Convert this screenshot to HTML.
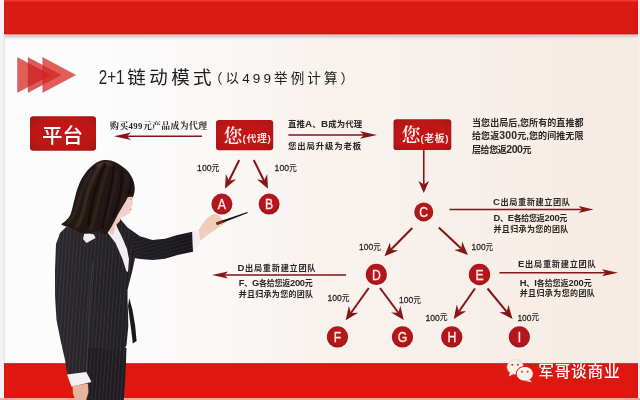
<!DOCTYPE html>
<html lang="zh-CN">
<head>
<meta charset="utf-8">
<title>2+1链动模式</title>
<style>
html,body{margin:0;padding:0;background:#f7f4f2;}
body{width:640px;height:400px;overflow:hidden;position:relative;font-family:"Liberation Sans","Noto Sans CJK SC",sans-serif;}
svg{position:absolute;left:0;top:0;display:block}
text{font-family:"Liberation Sans","Noto Sans CJK SC",sans-serif;}
.s{font-weight:700;fill:#2a2626;}
.n{font-weight:500;fill:#221f1f;}
.c{font-size:14.5px;font-weight:400;fill:#fdeeea;stroke:#fdeeea;stroke-width:0.35px;text-anchor:middle;}
</style>
</head>
<body>
<svg width="640" height="400" viewBox="0 0 640 400">
<defs>
<linearGradient id="bg" x1="0" y1="0" x2="1" y2="0">
<stop offset="0" stop-color="#fcfcfc"/>
<stop offset="0.22" stop-color="#fcfbfb"/>
<stop offset="0.52" stop-color="#f8f2ee"/>
<stop offset="1" stop-color="#f6ebe4"/>
</linearGradient>
<linearGradient id="shadow" x1="0" y1="0" x2="0" y2="1">
<stop offset="0" stop-color="#fbb"/>
<stop offset="0.35" stop-color="#d8d4d4"/>
<stop offset="1" stop-color="#f8f6f5" stop-opacity="0"/>
</linearGradient>
<radialGradient id="cg" cx="0.5" cy="0.45" r="0.6">
<stop offset="0" stop-color="#bd181d"/>
<stop offset="0.72" stop-color="#b0151a"/>
<stop offset="1" stop-color="#880f13"/>
</radialGradient>
<radialGradient id="bx" cx="0.5" cy="0.5" r="0.75">
<stop offset="0" stop-color="#c61716"/>
<stop offset="0.6" stop-color="#bd1516"/>
<stop offset="1" stop-color="#9c1012"/>
</radialGradient>
<filter id="soft" x="0" y="0" width="640" height="400" filterUnits="userSpaceOnUse"><feGaussianBlur stdDeviation="0.38"/></filter>
<filter id="b1"><feGaussianBlur stdDeviation="0.6"/></filter>
<filter id="b2"><feGaussianBlur stdDeviation="1.2"/></filter>
<filter id="b3"><feGaussianBlur stdDeviation="2.2"/></filter>
</defs>
<rect width="640" height="400" fill="url(#bg)"/>
<rect x="0" y="0" width="3.8" height="400" fill="#f3f2f6"/>
<rect x="638" y="0" width="2" height="400" fill="#f8efe9"/>
<!-- top band -->
<rect x="4" y="0" width="634" height="34.5" fill="#d91a13"/>
<rect x="4" y="0" width="634" height="1.5" fill="#f0392c"/>
<rect x="4" y="33" width="634" height="1.5" fill="#b5221c"/>
<rect x="4" y="34.5" width="634" height="6" fill="url(#shadow)"/>
<rect x="3.6" y="34" width="1.2" height="330" fill="#dcdadb" fill-opacity="0.8"/>
<!-- bottom band -->
<rect x="4" y="363.5" width="634" height="34.5" fill="#df170f"/>
<rect x="4" y="363.3" width="634" height="1.2" fill="#b5221c"/>
<rect x="0" y="398" width="640" height="2" fill="#f6a9a0"/>
<g filter="url(#soft)">
<!--WOMAN-->
<defs>
<pattern id="pin" width="3.6" height="12" patternUnits="userSpaceOnUse" patternTransform="rotate(4)">
<rect x="0" y="0" width="0.7" height="12" fill="#6a6068" fill-opacity="0.32"/>
</pattern>
<pattern id="pinArm" width="3.4" height="12" patternUnits="userSpaceOnUse" patternTransform="rotate(75)">
<rect x="0" y="0" width="0.6" height="12" fill="#6a6068" fill-opacity="0.26"/>
</pattern>
<linearGradient id="hairg" x1="0" y1="0" x2="1" y2="0.3">
<stop offset="0" stop-color="#32231e"/>
<stop offset="0.45" stop-color="#1f1411"/>
<stop offset="1" stop-color="#241714"/>
</linearGradient>
<linearGradient id="suitg" x1="0" y1="0" x2="1" y2="0">
<stop offset="0" stop-color="#2c292f"/>
<stop offset="0.5" stop-color="#222026"/>
<stop offset="1" stop-color="#19171c"/>
</linearGradient>
</defs>
<g filter="url(#b1)">
<!-- pants -->
<path id="pants" d="M87,346 L126.5,348 L125.5,375 L123.8,401 L84,401 L86,372 Z" fill="#201d23"/>
<!-- jacket body + hanging sleeve -->
<path id="jacket" d="M66,227 L60,233 L56,244 L55,270 L55,296 L56.5,320 L60.5,340 L65,360 L67.5,375 L86.5,372.5 L87.5,348 L124,350.5 L126.5,345 L128.3,326 L128,312 L127.5,300 L127.5,290 L130,280 L132.5,270 L135,258 L140,259 L152.5,260 L165,258.8 L177.5,255 L193,251.8 L192.5,231.8 L177.5,235 L165,238.8 L152.5,240 L140,236.3 L127.5,227.5 L119,217.5 L112,222 L100,228 L85,229 Z" fill="url(#suitg)"/>
<path d="M66,227 L60,233 L56,244 L55,270 L55,296 L56.5,320 L60.5,340 L65,360 L67.5,375 L86.5,372.5 L87.5,348 L124,350.5 L126.5,345 L128.5,326 L128,312 L127.5,300 L127.5,290 L130,280 L132.5,270 L135,258 L127.5,227.5 L119,217.5 L112,222 L100,228 L85,229 Z" fill="url(#pin)"/>
<path d="M135,258 L140,259 L152.5,260 L165,258.8 L177.5,255 L193,251.8 L192.5,231.8 L177.5,235 L165,238.8 L152.5,240 L140,236.3 L127.5,227.5 Z" fill="url(#pinArm)"/>
<path d="M87,350 L126,350 L125.5,375 L123.8,401 L84,401 L86,372 Z" fill="url(#pin)"/>
<path d="M129.3,298 L132.5,310 L135.2,326 L136.6,341 L132.8,343.5 L131.2,330 L129.6,318 L128,306 Z" fill="#1b181d"/>
<path d="M93,262 C90,285 88.5,315 87.8,347 L86.6,372" stroke="#55505a" stroke-opacity="0.55" stroke-width="0.9" fill="none"/>
<!-- shirt V -->
<path d="M107.5,232.5 L110.5,226 L115,220 L117,227 L122,237 L127,249 L129,259 L128,272 L126.3,271 L122.5,259 L115.5,243 Z" fill="#f1edf2"/>
<path d="M108.5,231 L111,225.5 L114.5,221.5 L115,229 L112.5,235.5 Z" fill="#ecc8b8"/>
<!-- left collar -->
<path d="M83,239 L84.5,232.5 L94,234.5 L95.5,238 L86.5,243 Z" fill="#efecf1"/>
<!-- neck -->
<path d="M112,217 L121,214 L120,221 L116,225 L109,228 Z" fill="#ecc8b8"/>
<!-- face -->
<path d="M120,190 L132.6,190 L132.5,200 L133.3,203.6 L131.8,206 L131.4,210 L129.3,213.6 L125.3,216 L120,217.5 L113,219 Z" fill="#f0d3c8"/>
<path d="M129.6,199 L131.8,199.2" stroke="#5a4440" stroke-width="0.7" fill="none" stroke-opacity="0.7"/>
<path d="M129.6,209.6 L131.6,209.4" stroke="#c8807a" stroke-width="0.9" fill="none"/>
<!-- hair -->
<path id="hair" d="M103.8,160 C108,159.6 112,160.5 115,162 C120,164.5 125,168 128.5,172 C132,176.5 134,181 134.6,186 C135.1,190.5 134.5,194 132.8,197.2 C131.3,196.5 129.6,196.5 127.8,197.2 C126.2,200.5 124.4,203.5 122.5,206.6 C120.8,209.5 119.2,212.3 117.5,215.2 C115,219.8 111.5,228 106.5,234 C104.8,234.2 103.5,234 102.5,233 C100,231.5 97.5,231 95,231.5 C91.5,232.2 88.5,234 85,233.8 C81,233.5 78,231.5 75,230 C71.5,228.3 68,227.5 65,226.3 C63.5,225.7 62,225.2 61,224.3 C64,222.5 66.7,220 68.8,217.5 C70.8,214.5 71.7,211 72.5,207.5 C73.3,204 74,201 75,197.5 C76,193 77.2,189 78.8,185 C80.2,181 82.5,177 85,173.8 C87.5,170 90.5,167 93.8,164.5 C97,162 100.5,160.4 103.8,160 Z" fill="url(#hairg)"/>
<!-- hair highlights -->
<g fill="none" filter="url(#b2)">
<path d="M101,164 C93,176 88,188 85,204 C83,214 80,222 76,228" stroke="#6a5046" stroke-width="3.2" stroke-opacity="0.42"/>
<path d="M109,165 C104,178 100,192 97,206 C95,216 93,224 90,231" stroke="#5e463d" stroke-width="2.6" stroke-opacity="0.38"/>
<path d="M93,169 C86,180 81,192 78,204 C76,212 72,219 67,224" stroke="#5a433a" stroke-width="2.4" stroke-opacity="0.35"/>
<path d="M117,170 C116,184 112,198 108,212 C106,220 103,227 100,231" stroke="#54403a" stroke-width="2.2" stroke-opacity="0.32"/>
<path d="M126,175 C127,186 124,198 120,209" stroke="#54403a" stroke-width="2" stroke-opacity="0.3"/>
<path d="M96,166 C100,163 106,162.5 112,164" stroke="#7a6054" stroke-width="3" stroke-opacity="0.35"/>
</g>
<g stroke="#0e0908" fill="none" filter="url(#b1)">
<path d="M105,163 C98,180 92,198 88,226" stroke-width="2.2" stroke-opacity="0.45"/>
<path d="M114,167 C112,186 107,206 102,229" stroke-width="2.4" stroke-opacity="0.45"/>
<path d="M122,171 C123,186 119,202 113,218" stroke-width="2.4" stroke-opacity="0.4"/>
<path d="M131,180 C131.5,186 130,191 128,195" stroke-width="2" stroke-opacity="0.4"/>
</g>
<!-- cuff (hanging arm) -->
<path d="M67,374.5 L86.3,372 L91.5,382 L71.5,386.8 Z" fill="#f3f0f4"/>
<!-- hand (hanging) -->
<path d="M72.5,386 L88,383.5 L88.5,392 L86,401 L76,401 L73,394 Z" fill="#e4b49d"/>
<!-- cuff (pointing arm) -->
<path d="M192.3,231.5 L199,230 L200.5,244 L193,251 Z" fill="#f1edf1"/>
<!-- pointing hand -->
<path d="M198.5,230 C201,226 204,221.5 207.5,218 C210,215.5 213,214 215.5,214 C218.5,214.2 221,216.5 222,219.5 L225.5,222 C224.5,224 223,225 221,225.8 C218,228 215,230 212,232 C208,235 204,237.5 200.3,240.5 Z" fill="#f0cdb8"/>
</g>
<!-- pen -->
<path d="M216.2,222.6 L247.3,211.9 L247.8,212.9 L217,225 Z" fill="#161214"/>
<path d="M216.5,223.8 L223,221.4" stroke="#8e1c1e" stroke-width="2.6" fill="none"/>
<!--DIAGRAM-->
<g>
<path d="M17.5,57.5 L50.4,75 L17.5,92.5 Z" fill="#d8231f" fill-opacity="0.72" stroke="#a01c1c" stroke-opacity="0.45" stroke-width="0.6"/>
<path d="M28.1,57.5 L61,75 L28.1,92.5 Z" fill="#cf1e1b" fill-opacity="0.72" stroke="#a01c1c" stroke-opacity="0.45" stroke-width="0.6"/>
<path d="M42.75,57.5 L75.6,75 L42.75,92.5 Z" fill="#d8231f" fill-opacity="0.72" stroke="#a01c1c" stroke-opacity="0.45" stroke-width="0.6"/>
</g>
<text transform="translate(98.8,83.7) scale(0.74,1)" style="font-size:20.5px;font-weight:400;fill:#222">2+1</text>
<text x="127.3" y="83.6" textLength="84.3" lengthAdjust="spacing" style="font-size:18.5px;font-weight:400;fill:#1a1a1a">链动模式</text>
<text x="209" y="83" textLength="145" lengthAdjust="spacing" style="font-size:13.5px;font-weight:400;fill:#1a1a1a">（以499举例计算）</text>
<rect x="30" y="116.2" width="66" height="34.5" rx="3.2" fill="url(#bx)"/>
<text x="42" y="142.6" textLength="41" lengthAdjust="spacing" style="font-size:20.5px;font-weight:500;fill:#fff">平台</text>
<text x="110.00" y="129.18" class="s" textLength="97.00" lengthAdjust="spacing" style="font-size:8.8px;font-family:'Liberation Serif','Noto Serif CJK SC',serif;font-weight:700;">购买499元产品成为代理</text>
<line x1="202.00" y1="136.20" x2="127.00" y2="136.20" stroke="#841318" stroke-width="1.5"/>
<path d="M114.00,136.20 L131.00,132.45 L127.00,136.20 L131.00,139.95 Z" fill="#841318"/>
<rect x="216" y="120" width="57.2" height="30.2" rx="3.2" fill="url(#bx)"/>
<text x="223.5" y="142.5" style="font-family:'Liberation Serif','Noto Serif CJK SC',serif;font-size:19px;font-weight:600;fill:#fdeeeb">您</text>
<text x="242.6" y="142.3" textLength="28.2" lengthAdjust="spacing" style="font-size:9.8px;font-weight:700;fill:#fbe6e2">(代理)</text>
<line x1="239.25" y1="160.00" x2="229.00" y2="180.69" stroke="#841318" stroke-width="2"/>
<path d="M225.00,188.75 L225.84,174.10 L229.00,180.69 L236.15,179.21 Z" fill="#841318"/>
<line x1="253.75" y1="160.00" x2="264.00" y2="180.69" stroke="#841318" stroke-width="2"/>
<path d="M268.00,188.75 L256.85,179.21 L264.00,180.69 L267.16,174.10 Z" fill="#841318"/>
<text transform="translate(197.10,170.85) scale(0.912,1)" class="n"><tspan style="font-size:9.5px;font-weight:400;stroke:#2b2828;stroke-width:0.3px">100</tspan><tspan style="font-size:8.6px;font-weight:500" dy="-0.2">元</tspan></text>
<text transform="translate(274.60,170.85) scale(0.912,1)" class="n"><tspan style="font-size:9.5px;font-weight:400;stroke:#2b2828;stroke-width:0.3px">100</tspan><tspan style="font-size:8.6px;font-weight:500" dy="-0.2">元</tspan></text>
<circle cx="221.9" cy="204.1" r="10.5" fill="url(#cg)"/>
<text transform="translate(221.9,209.30) scale(0.84,1)" class="c">A</text>
<circle cx="269.1" cy="204.1" r="10.5" fill="url(#cg)"/>
<text transform="translate(269.1,209.30) scale(0.84,1)" class="c">B</text>
<text x="288.00" y="127.21" class="s" textLength="74.20" lengthAdjust="spacing" style="font-size:8.4px;">直推<tspan style="font-size:9.83px">A</tspan>、<tspan style="font-size:9.83px">B</tspan>成为代理</text>
<line x1="288.40" y1="134.90" x2="364.00" y2="134.90" stroke="#841318" stroke-width="1.5"/>
<path d="M377.00,134.90 L360.00,138.65 L364.00,134.90 L360.00,131.15 Z" fill="#841318"/>
<text x="288.00" y="149.41" class="s" textLength="73.00" lengthAdjust="spacing" style="font-size:8.4px;">您出局升级为老板</text>
<rect x="393.5" y="119.3" width="57.8" height="30.8" rx="3.2" fill="url(#bx)"/>
<text x="401.5" y="142" style="font-family:'Liberation Serif','Noto Serif CJK SC',serif;font-size:19px;font-weight:600;fill:#fdeeeb">您</text>
<text x="420.4" y="141.8" textLength="28.2" lengthAdjust="spacing" style="font-size:9.8px;font-weight:700;fill:#fbe6e2">(老板)</text>
<line x1="423.75" y1="150.00" x2="423.75" y2="184.50" stroke="#841318" stroke-width="1.6"/>
<path d="M423.75,193.00 L418.50,181.00 L423.75,184.50 L429.00,181.00 Z" fill="#841318"/>
<text x="472.00" y="126.27" class="s" textLength="111.50" lengthAdjust="spacing" style="font-size:9px;">当您出局后,您所有的直推都</text>
<text x="472.00" y="139.47" class="s" textLength="111.50" lengthAdjust="spacing" style="font-size:9px;">给您返<tspan style="font-size:10.53px">300</tspan>元,您的间推无限</text>
<text x="472.00" y="152.97" class="s" textLength="59.50" lengthAdjust="spacing" style="font-size:9px;">层给您返<tspan style="font-size:10.53px">200</tspan>元</text>
<circle cx="423.75" cy="211.9" r="9.5" fill="url(#cg)"/>
<text transform="translate(423.75,217.10) scale(0.84,1)" class="c">C</text>
<text x="493.00" y="204.83" class="s" textLength="77.00" lengthAdjust="spacing" style="font-size:8.2px;"><tspan style="font-size:9.59px">C</tspan>出局重新建立团队</text>
<line x1="449.50" y1="209.60" x2="582.10" y2="209.60" stroke="#841318" stroke-width="1.5"/>
<path d="M593.60,209.60 L578.60,213.10 L582.10,209.60 L578.60,206.10 Z" fill="#841318"/>
<text x="493.50" y="221.44" class="s" textLength="73.80" lengthAdjust="spacing" style="font-size:8px;"><tspan style="font-size:9.36px">D</tspan>、<tspan style="font-size:9.36px">E</tspan>各给您返<tspan style="font-size:9.36px">200</tspan>元</text>
<text x="493.50" y="231.64" class="s" textLength="74.80" lengthAdjust="spacing" style="font-size:8px;">并且归承为您的团队</text>
<line x1="412.30" y1="228.00" x2="390.82" y2="249.79" stroke="#841318" stroke-width="2"/>
<path d="M384.50,256.20 L389.88,242.55 L390.82,249.79 L398.07,250.62 Z" fill="#841318"/>
<line x1="438.75" y1="227.50" x2="461.44" y2="248.84" stroke="#841318" stroke-width="2"/>
<path d="M468.00,255.00 L454.23,249.94 L461.44,248.84 L462.10,241.56 Z" fill="#841318"/>
<text transform="translate(359.10,249.75) scale(0.891,1)" class="n"><tspan style="font-size:9.5px;font-weight:400;stroke:#2b2828;stroke-width:0.3px">100</tspan><tspan style="font-size:8.6px;font-weight:500" dy="-0.2">元</tspan></text>
<text transform="translate(471.60,249.75) scale(0.879,1)" class="n"><tspan style="font-size:9.5px;font-weight:400;stroke:#2b2828;stroke-width:0.3px">100</tspan><tspan style="font-size:8.6px;font-weight:500" dy="-0.2">元</tspan></text>
<circle cx="376.4" cy="274.4" r="10.6" fill="url(#cg)"/>
<text transform="translate(376.4,279.60) scale(0.84,1)" class="c">D</text>
<circle cx="479.5" cy="274.5" r="10.7" fill="url(#cg)"/>
<text transform="translate(479.5,279.70) scale(0.84,1)" class="c">E</text>
<text x="237.50" y="270.73" class="s" textLength="78.00" lengthAdjust="spacing" style="font-size:8.2px;"><tspan style="font-size:9.59px">D</tspan>出局重新建立团队</text>
<line x1="346.00" y1="275.00" x2="224.50" y2="275.00" stroke="#841318" stroke-width="1.5"/>
<path d="M212.00,275.00 L228.00,271.50 L224.50,275.00 L228.00,278.50 Z" fill="#841318"/>
<text x="238.70" y="286.44" class="s" textLength="74.10" lengthAdjust="spacing" style="font-size:8px;"><tspan style="font-size:9.36px">F</tspan>、<tspan style="font-size:9.36px">G</tspan>各给您返<tspan style="font-size:9.36px">200</tspan>元</text>
<text x="238.70" y="296.94" class="s" textLength="74.30" lengthAdjust="spacing" style="font-size:8px;">并且归承为您的团队</text>
<text x="518.00" y="266.93" class="s" textLength="77.70" lengthAdjust="spacing" style="font-size:8.2px;"><tspan style="font-size:9.59px">E</tspan>出局重新建立团队</text>
<line x1="499.50" y1="272.70" x2="605.50" y2="272.70" stroke="#841318" stroke-width="1.5"/>
<path d="M618.00,272.70 L602.00,276.20 L605.50,272.70 L602.00,269.20 Z" fill="#841318"/>
<text x="519.70" y="285.64" class="s" textLength="72.00" lengthAdjust="spacing" style="font-size:8px;"><tspan style="font-size:9.36px">H</tspan>、<tspan style="font-size:9.36px">I</tspan>各给您返<tspan style="font-size:9.36px">200</tspan>元</text>
<text x="519.70" y="295.64" class="s" textLength="75.10" lengthAdjust="spacing" style="font-size:8px;">并且归承为您的团队</text>
<line x1="368.75" y1="288.00" x2="350.93" y2="312.97" stroke="#841318" stroke-width="2"/>
<path d="M345.70,320.30 L348.86,305.97 L350.93,312.97 L358.22,312.65 Z" fill="#841318"/>
<line x1="380.00" y1="288.00" x2="398.39" y2="312.77" stroke="#841318" stroke-width="2"/>
<path d="M403.75,320.00 L391.09,312.59 L398.39,312.77 L400.32,305.73 Z" fill="#841318"/>
<line x1="475.00" y1="288.50" x2="458.91" y2="311.52" stroke="#841318" stroke-width="2"/>
<path d="M453.75,318.90 L456.77,304.54 L458.91,311.52 L466.20,311.13 Z" fill="#841318"/>
<line x1="487.50" y1="288.50" x2="506.78" y2="311.95" stroke="#841318" stroke-width="2"/>
<path d="M512.50,318.90 L499.48,312.13 L506.78,311.95 L508.37,304.82 Z" fill="#841318"/>
<text transform="translate(327.60,301.35) scale(0.900,1)" class="n"><tspan style="font-size:9.5px;font-weight:400;stroke:#2b2828;stroke-width:0.3px">100</tspan><tspan style="font-size:8.6px;font-weight:500" dy="-0.2">元</tspan></text>
<text transform="translate(399.10,303.35) scale(0.891,1)" class="n"><tspan style="font-size:9.5px;font-weight:400;stroke:#2b2828;stroke-width:0.3px">100</tspan><tspan style="font-size:8.6px;font-weight:500" dy="-0.2">元</tspan></text>
<text transform="translate(425.60,320.55) scale(0.900,1)" class="n"><tspan style="font-size:9.5px;font-weight:400;stroke:#2b2828;stroke-width:0.3px">100</tspan><tspan style="font-size:8.6px;font-weight:500" dy="-0.2">元</tspan></text>
<text transform="translate(517.40,320.55) scale(0.887,1)" class="n"><tspan style="font-size:9.5px;font-weight:400;stroke:#2b2828;stroke-width:0.3px">100</tspan><tspan style="font-size:8.6px;font-weight:500" dy="-0.2">元</tspan></text>
<circle cx="337.5" cy="336.9" r="10.6" fill="url(#cg)"/>
<text transform="translate(337.5,342.10) scale(0.84,1)" class="c">F</text>
<circle cx="402.5" cy="336.9" r="10.6" fill="url(#cg)"/>
<text transform="translate(402.5,342.10) scale(0.84,1)" class="c">G</text>
<circle cx="451.8" cy="336.9" r="10.6" fill="url(#cg)"/>
<text transform="translate(451.8,342.10) scale(0.84,1)" class="c">H</text>
<circle cx="519.4" cy="336.9" r="10.6" fill="url(#cg)"/>
<text transform="translate(519.4,342.10) scale(0.84,1)" class="c">I</text>
<g>
<ellipse cx="515.2" cy="367" rx="8.2" ry="7.3" fill="#fdf1ee" stroke="#d8c4c0" stroke-width="0.6"/>
<path d="M510,372.5 L508.8,376.5 L513.5,374 Z" fill="#fdf1ee"/>
<ellipse cx="524.8" cy="373.8" rx="8.6" ry="7.4" fill="#fdf1ee" stroke="#df170f" stroke-width="1"/>
<path d="M529.5,379.5 L532,382.3 L525.5,381 Z" fill="#fdf1ee"/>
<circle cx="512.3" cy="364.8" r="1.05" fill="#c7342c"/><circle cx="517.8" cy="364.8" r="1.05" fill="#c7342c"/>
<circle cx="522" cy="371.8" r="0.95" fill="#c7342c"/><circle cx="527.6" cy="371.8" r="0.95" fill="#c7342c"/>
<text x="538.9" y="377.3" textLength="81.3" lengthAdjust="spacing" style="font-size:15.7px;font-weight:400;fill:#5a1410;fill-opacity:0.55" filter="url(#b1)">军哥谈商业</text>
<text x="538.3" y="376.7" textLength="81.3" lengthAdjust="spacing" style="font-size:15.7px;font-weight:500;fill:#fff">军哥谈商业</text>
</g>
</g>
</svg>
</body>
</html>
